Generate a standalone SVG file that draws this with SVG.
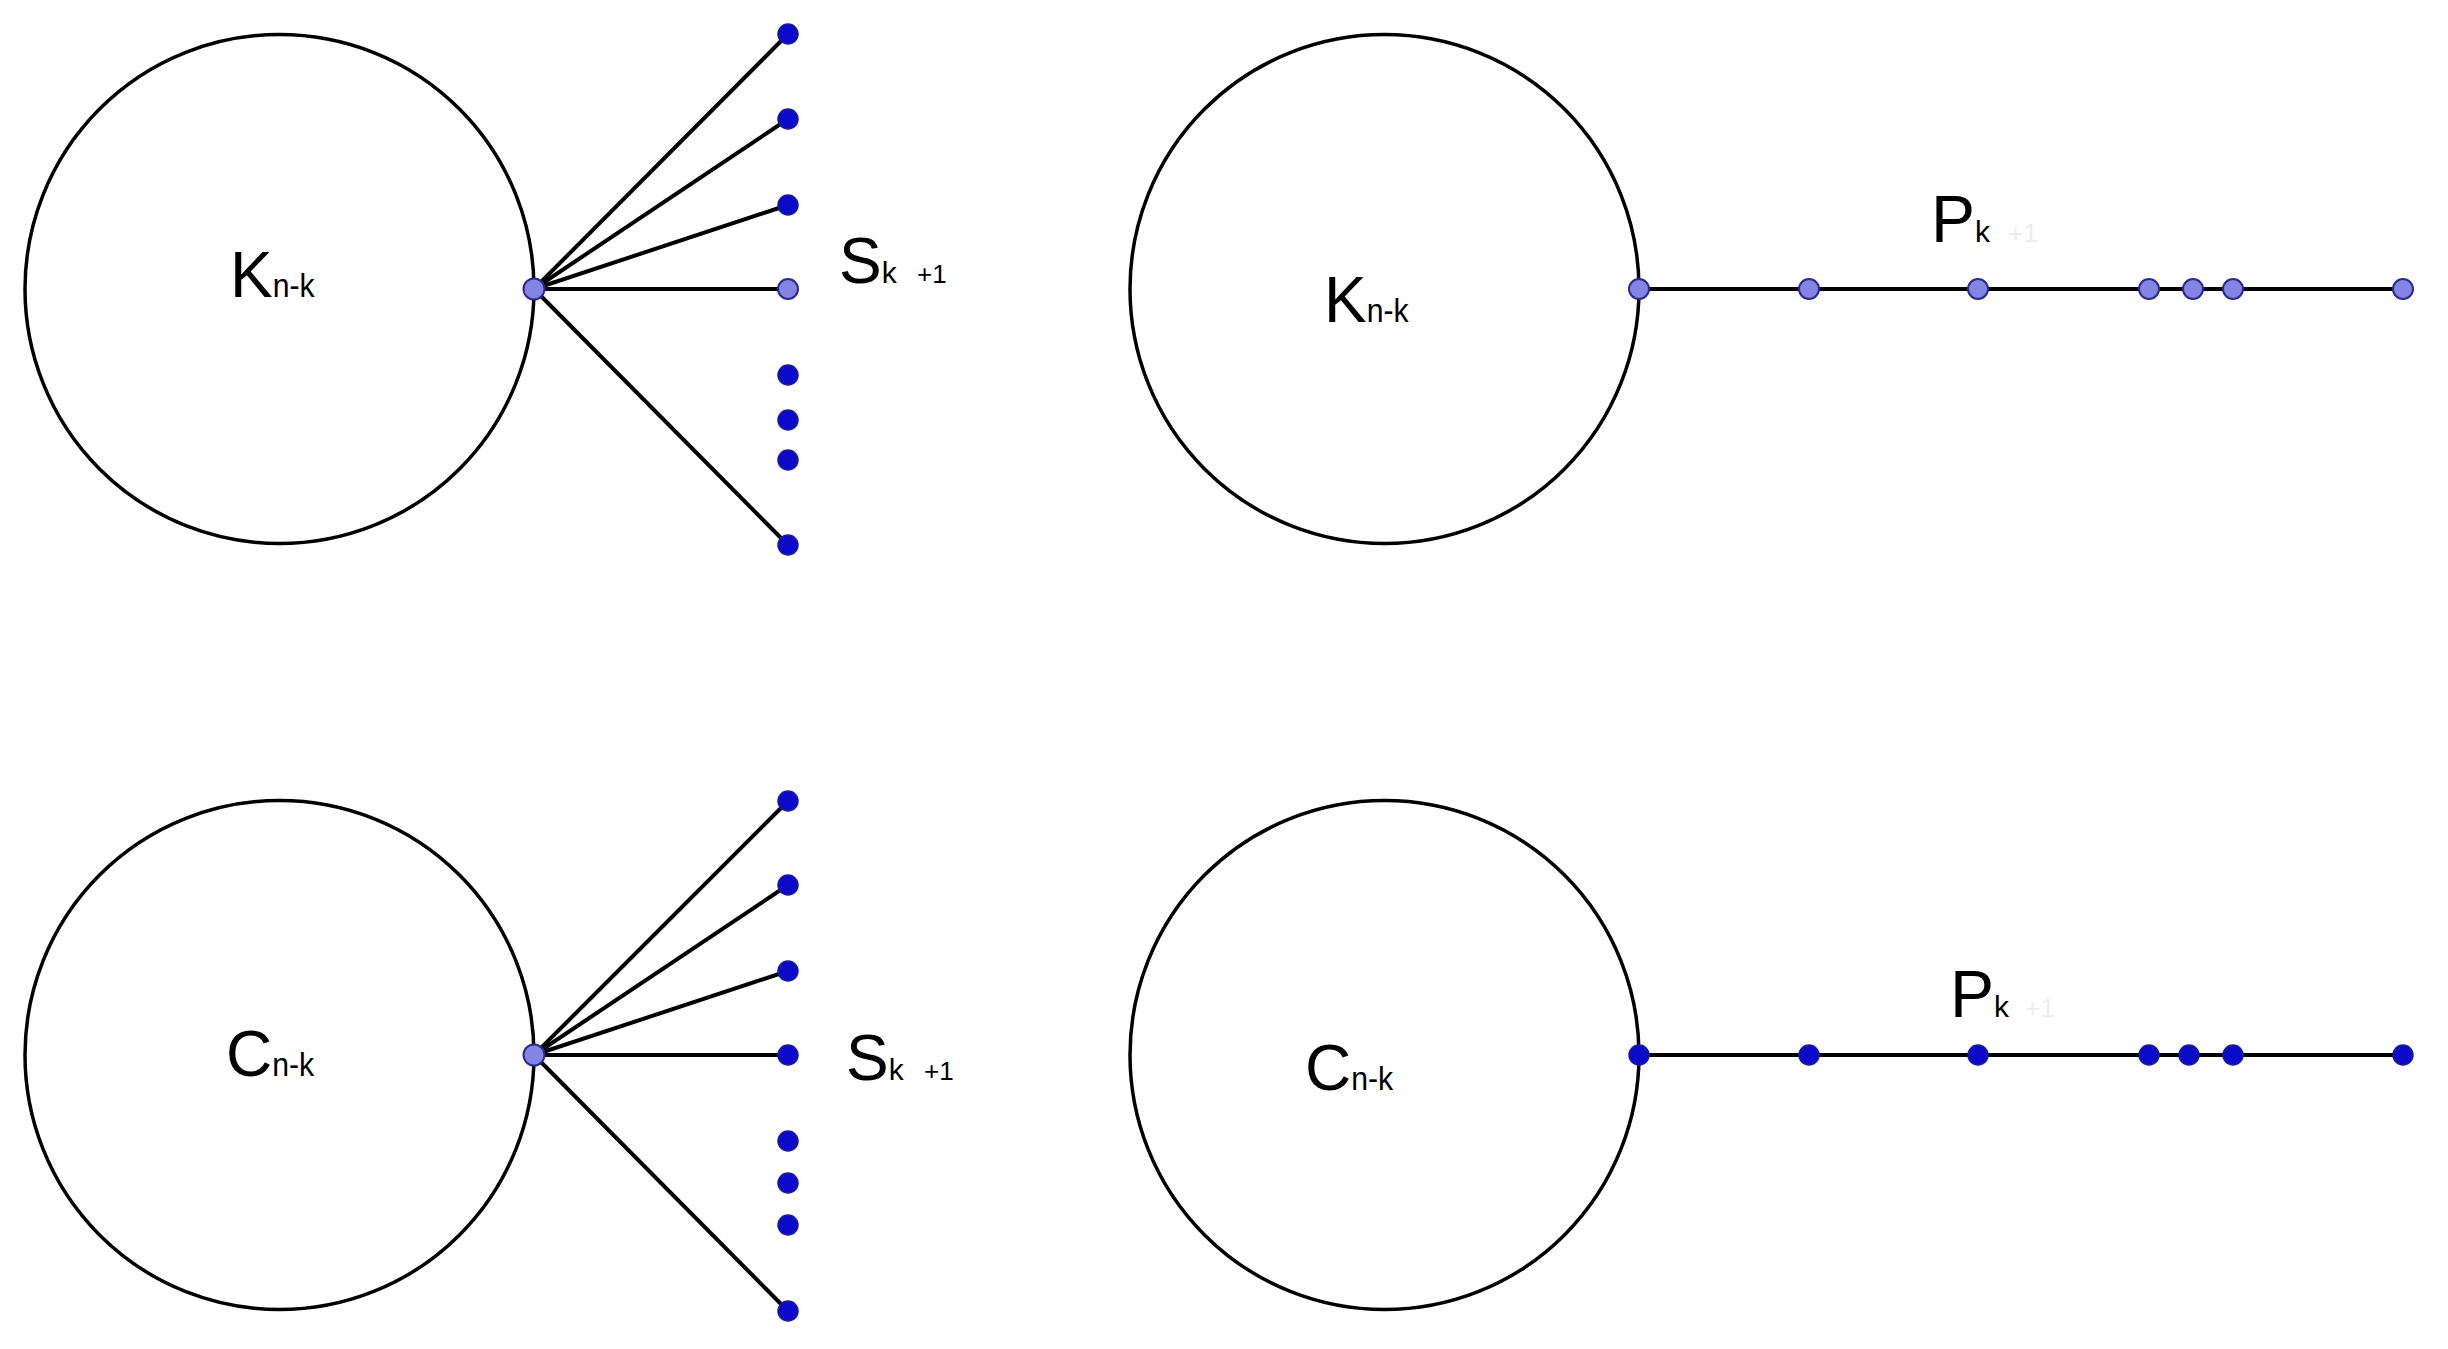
<svg xmlns="http://www.w3.org/2000/svg" width="2448" height="1349" viewBox="0 0 2448 1349">
<style>
.big{fill:none;stroke:#000;stroke-width:3.5}
.e{stroke:#000;stroke-width:4;fill:none}
.d{fill:#0a0ac8;stroke:#1a1aa0;stroke-width:1.5}
.l{fill:#8484e4;stroke:#2a2a8c;stroke-width:2}
text{font-family:"Liberation Sans",Arial,sans-serif;fill:#000}
.main{font-size:64px}
.sub{font-size:33px}
.faint{fill:#ececec;font-size:26px}
</style>
<rect width="2448" height="1349" fill="#fff"/>
<g id="connectors">
<line class="e" x1="534" y1="289" x2="788" y2="34"/>
<line class="e" x1="534" y1="289" x2="788" y2="119"/>
<line class="e" x1="534" y1="289" x2="788" y2="205"/>
<line class="e" x1="534" y1="289" x2="788" y2="289"/>
<line class="e" x1="534" y1="289" x2="788" y2="545"/>
<line class="e" x1="1639" y1="289" x2="2403" y2="289"/>
<line class="e" x1="534" y1="1055" x2="788" y2="801"/>
<line class="e" x1="534" y1="1055" x2="788" y2="885"/>
<line class="e" x1="534" y1="1055" x2="788" y2="971"/>
<line class="e" x1="534" y1="1055" x2="788" y2="1055"/>
<line class="e" x1="534" y1="1055" x2="788" y2="1311"/>
<line class="e" x1="1639" y1="1055" x2="2403" y2="1055"/>
</g>
<g id="K-left">
<circle class="big" cx="279.5" cy="289" r="254.5"/>
<text x="230" y="297"><tspan class="main">K</tspan><tspan class="sub" textLength="42" lengthAdjust="spacingAndGlyphs">n-k</tspan></text>
</g>
<g id="S-top">
<circle class="d" cx="788" cy="34" r="10"/>
<circle class="d" cx="788" cy="119" r="10"/>
<circle class="d" cx="788" cy="205" r="10"/>
<circle class="l" cx="788" cy="289" r="10"/>
<circle class="d" cx="788" cy="375" r="10"/>
<circle class="d" cx="788" cy="420" r="10"/>
<circle class="d" cx="788" cy="460" r="10"/>
<circle class="d" cx="788" cy="545" r="10"/>
<circle class="l" cx="534" cy="289" r="10.5"/>
<text x="839" y="283"><tspan class="main">S</tspan><tspan font-size="30">k</tspan><tspan x="917" font-size="26">+1</tspan></text>
</g>
<g id="K-right">
<circle class="big" cx="1384.5" cy="289" r="254.5"/>
<text x="1324" y="322"><tspan class="main">K</tspan><tspan class="sub" textLength="42" lengthAdjust="spacingAndGlyphs">n-k</tspan></text>
</g>
<g id="P-top">
<circle class="l" cx="1639" cy="289" r="10"/>
<circle class="l" cx="1809" cy="289" r="10"/>
<circle class="l" cx="1978" cy="289" r="10"/>
<circle class="l" cx="2149" cy="289" r="10"/>
<circle class="l" cx="2193" cy="289" r="10"/>
<circle class="l" cx="2233" cy="289" r="10"/>
<circle class="l" cx="2403" cy="289" r="10"/>
<text x="1931" y="242"><tspan font-size="66">P</tspan><tspan font-size="30">k</tspan><tspan class="faint" x="2008">+1</tspan></text>
</g>
<g id="C-left">
<circle class="big" cx="279.5" cy="1055" r="254.5"/>
<text x="226" y="1076"><tspan class="main">C</tspan><tspan class="sub" textLength="42" lengthAdjust="spacingAndGlyphs">n-k</tspan></text>
</g>
<g id="S-bottom">
<circle class="d" cx="788" cy="801" r="10"/>
<circle class="d" cx="788" cy="885" r="10"/>
<circle class="d" cx="788" cy="971" r="10"/>
<circle class="d" cx="788" cy="1055" r="10"/>
<circle class="d" cx="788" cy="1141" r="10"/>
<circle class="d" cx="788" cy="1183" r="10"/>
<circle class="d" cx="788" cy="1225" r="10"/>
<circle class="d" cx="788" cy="1311" r="10"/>
<circle class="l" cx="534" cy="1055" r="10.5"/>
<text x="846" y="1080"><tspan class="main">S</tspan><tspan font-size="30">k</tspan><tspan x="924" font-size="26">+1</tspan></text>
</g>
<g id="C-right">
<circle class="big" cx="1384.5" cy="1055" r="254.5"/>
<text x="1305" y="1090"><tspan class="main">C</tspan><tspan class="sub" textLength="42" lengthAdjust="spacingAndGlyphs">n-k</tspan></text>
</g>
<g id="P-bottom">
<circle class="d" cx="1639" cy="1055" r="10"/>
<circle class="d" cx="1809" cy="1055" r="10"/>
<circle class="d" cx="1978" cy="1055" r="10"/>
<circle class="d" cx="2149" cy="1055" r="10"/>
<circle class="d" cx="2189" cy="1055" r="10"/>
<circle class="d" cx="2233" cy="1055" r="10"/>
<circle class="d" cx="2403" cy="1055" r="10"/>
<text x="1950" y="1017"><tspan font-size="66">P</tspan><tspan font-size="30">k</tspan><tspan class="faint" x="2025">+1</tspan></text>
</g>
</svg>
